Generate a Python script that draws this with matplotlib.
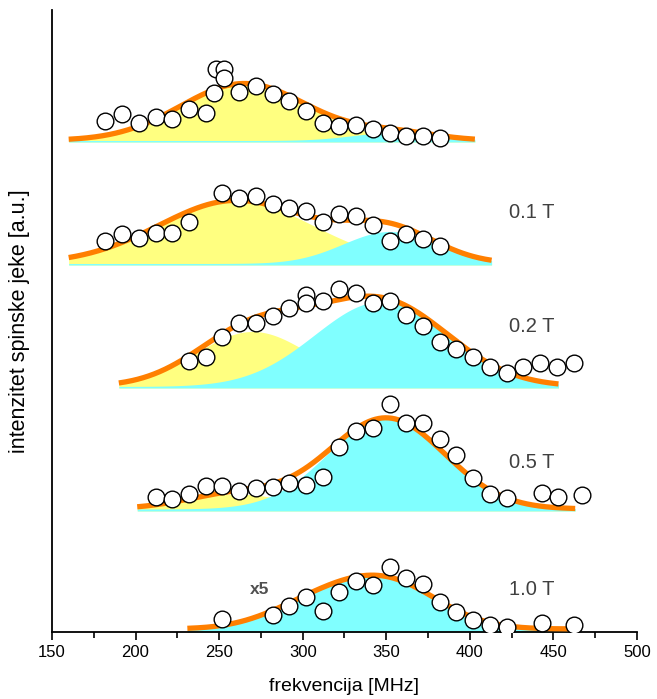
import numpy as np
import matplotlib
matplotlib.use("Agg")
import matplotlib.pyplot as plt

plt.rcParams['font.family'] = ['Liberation Sans', 'DejaVu Sans']

# --- measured points (frequency in MHz, height above each trace's baseline, a.u.)
f_00 = [182, 192, 202, 212, 222, 232, 242, 247, 248, 253, 253, 262, 272, 282, 292,
        302, 312, 322, 332, 342, 352, 362, 372, 382]
i_00 = [21, 28, 19, 25, 23, 33, 29, 49, 73, 73, 64, 50, 56, 48, 41,
        31, 19, 16, 17, 13, 9, 6, 6, 4]

f_01 = [182, 192, 202, 212, 222, 232, 252, 262, 272, 282, 292, 302, 312, 322, 332,
        342, 352, 362, 372, 382]
i_01 = [24, 31, 27, 32, 32, 43, 72, 67, 69, 61, 57, 54, 43, 51, 49,
        40, 24, 31, 26, 19]

f_02 = [232, 242, 252, 262, 272, 282, 292, 302, 302, 312, 322, 332, 342, 352, 362,
        372, 382, 392, 402, 412, 422, 432, 442, 452, 462]
i_02 = [27, 31, 51, 65, 65, 72, 80, 93, 85, 87, 99, 95, 85, 87, 73,
        62, 46, 39, 31, 21, 15, 21, 25, 21, 25]

f_05 = [212, 222, 232, 242, 252, 262, 272, 282, 292, 302, 312, 322, 332, 342, 352,
        362, 372, 382, 392, 402, 412, 422, 443, 453, 467]
i_05 = [14, 12, 17, 25, 25, 20, 23, 24, 28, 26, 34, 64, 80, 83, 107,
        88, 88, 72, 56, 33, 17, 13, 18, 14, 16]

f_10 = [252, 282, 292, 302, 312, 322, 332, 342, 352, 362, 372, 382, 392, 402, 412,
        422, 443, 462]
i_10 = [13, 17, 26, 35, 21, 40, 51, 47, 65, 54, 48, 30, 20, 12, 7,
        5, 9, 7]

# --- fitted components: (centre MHz, amplitude, width MHz)
yel_00 = [(265, 57, 38)]
cya_00 = [(355, 8, 25)]
yel_01 = [(260, 63, 46)]
cya_01 = [(352, 32, 28)]
yel_02 = [(270, 55, 34)]
cya_02 = [(347, 85, 40)]
yel_05 = [(260, 15, 30)]
cya_05 = [(350, 91, 35)]
yel_10 = []
cya_10 = [(350, 47, 31), (305, 20, 28)]

fit_range = [(160, 403), (160, 413), (190, 453), (201, 463), (231, 461)]
const = [1.5, 1.5, 1.5, 2.0, 3.0]
offsets = [490, 367, 244, 121, 0]
labels = ['', '0.1 T', '0.2 T', '0.5 T', '1.0 T']
label_y = [0, 52, 61, 48, 42]

traces = [(f_00, i_00, yel_00, cya_00),
          (f_01, i_01, yel_01, cya_01),
          (f_02, i_02, yel_02, cya_02),
          (f_05, i_05, yel_05, cya_05),
          (f_10, i_10, yel_10, cya_10)]


def gsum(x, comps):
    y = np.zeros_like(x)
    for c, a, s in comps:
        y += a * np.exp(-(x - c) ** 2 / (2 * s ** 2))
    return y


fig = plt.figure(figsize=(6.57, 6.99), dpi=100)
ax = fig.add_axes([0.0791, 0.0959, 0.8905, 0.8898])

for k, (f, v, yel, cya) in enumerate(traces):
    off = offsets[k]
    x = np.linspace(fit_range[k][0], fit_range[k][1], 400)
    gy = gsum(x, yel)
    gc = gsum(x, cya)
    if yel:
        ax.fill_between(x, off, off + const[k] + gy, color='#ffff80', lw=0, zorder=1)
    ax.fill_between(x, off, off + const[k] + gc, color='#80ffff', lw=0, zorder=2)
    ax.plot(x, off + const[k] + gy + gc, color='#ff7f00', lw=3.8,
            solid_capstyle='butt', zorder=3)
    ax.plot(f, np.array(v) + off, 'o', ms=12, mfc='white', mec='black',
            mew=1.0, zorder=4)
    if labels[k]:
        ax.text(437, off + label_y[k], labels[k], fontsize=14.5,
                color='#404040', ha='center', va='center')

ax.text(274, 42, 'x5', fontsize=12.5, fontweight='bold', color='#505050',
        ha='center', va='center')

ax.set_xlim(150, 500)
ax.set_ylim(0, 622)
ax.set_xticks(np.arange(150, 501, 50))
ax.set_xticks(np.arange(175, 500, 50), minor=True)
ax.set_yticks([])
ax.tick_params(axis='x', which='major', length=6, width=1.2, labelsize=12, direction='out')
ax.tick_params(axis='x', which='minor', length=4, width=1.2, direction='out')
for s in ['top', 'right']:
    ax.spines[s].set_visible(False)
for s in ['left', 'bottom']:
    ax.spines[s].set_linewidth(1.3)

ax.set_xlabel('frekvencija [MHz]', fontsize=14, labelpad=13)
ax.set_ylabel('intenzitet spinske jeke [a.u.]', fontsize=15.5, labelpad=16)

fig.savefig('out.png', dpi=100)
